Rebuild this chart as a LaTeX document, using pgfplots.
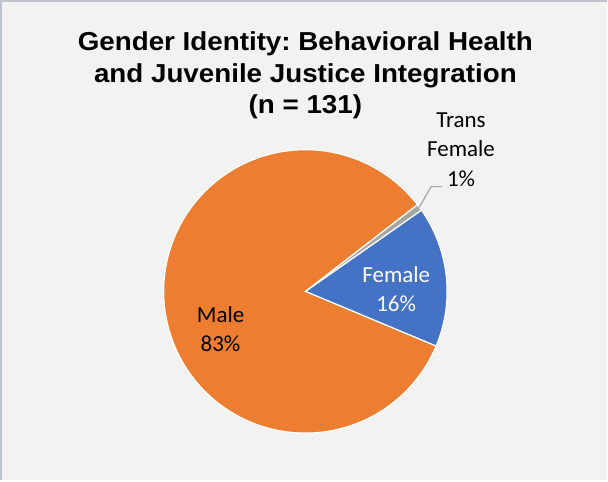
\documentclass[border=0pt]{standalone}
\usepackage{pgfplots}
\pgfplotsset{compat=1.18}
\usepackage{fontspec}
\setmainfont{Carlito}
\newfontfamily\titlefont[FakeStretch=1.07]{Liberation Sans}
\definecolor{bg}{HTML}{F2F2F2}
\definecolor{bordercol}{HTML}{BFC3CC}
\definecolor{cMale}{HTML}{ED7D31}
\definecolor{cFemale}{HTML}{4472C4}
\definecolor{cTrans}{HTML}{A5A5A5}
\definecolor{leader}{HTML}{A6A6A6}
% counts (n = 131)
\def\nFemale{21}
\def\nTrans{1}
\def\nMale{109}
\pgfmathsetmacro{\tot}{\nFemale+\nTrans+\nMale}
\pgfmathsetmacro{\aS}{-22.7}
\pgfmathsetmacro{\aF}{\aS+\nFemale/\tot*360}
\pgfmathsetmacro{\aT}{\aF+\nTrans/\tot*360}
\pgfmathsetmacro{\aM}{\aT+\nMale/\tot*360}
\def\cx{306}
\def\cy{189}
\def\r{142}
\begin{document}
\frenchspacing
\begin{tikzpicture}
\begin{axis}[width=608bp,height=481bp,scale only axis,
  xmin=0,xmax=608,ymin=0,ymax=481,
  axis line style={draw=none},ticks=none,
  axis background/.style={fill=bg},clip=false]
\addplot[fill=cFemale,draw=white,line width=1.2pt,domain=\aS:\aF,samples=60]
  ({\cx+\r*cos(x)},{\cy+\r*sin(x)}) -- (axis cs:\cx,\cy) -- cycle;
\addplot[fill=cTrans,draw=white,line width=1.2pt,domain=\aF:\aT,samples=10]
  ({\cx+\r*cos(x)},{\cy+\r*sin(x)}) -- (axis cs:\cx,\cy) -- cycle;
\addplot[fill=cMale,draw=white,line width=1.2pt,domain=\aT:\aM,samples=200]
  ({\cx+\r*cos(x)},{\cy+\r*sin(x)}) -- (axis cs:\cx,\cy) -- cycle;
% border (top and left)
\draw[bordercol,line width=2.5bp] (axis cs:1.25,0) -- (axis cs:1.25,479.75) -- (axis cs:608,479.75);
% title
\node[anchor=base,font=\titlefont\bfseries\fontsize{26bp}{30bp}\selectfont] at (axis cs:306,430) {Gender Identity: Behavioral Health};
\node[anchor=base,font=\titlefont\bfseries\fontsize{26bp}{30bp}\selectfont] at (axis cs:306,398) {and Juvenile Justice Integration};
\node[anchor=base,font=\titlefont\bfseries\fontsize{26bp}{30bp}\selectfont] at (axis cs:306,367) {(n = 131)};
% data labels
\node[anchor=base,font=\fontsize{23bp}{28bp}\selectfont] at (axis cs:221,158) {Male};
\node[anchor=base,font=\fontsize{23bp}{28bp}\selectfont] at (axis cs:221,129) {83\%};
\node[anchor=base,text=white,font=\fontsize{23bp}{28bp}\selectfont] at (axis cs:397,198) {Female};
\node[anchor=base,text=white,font=\fontsize{23bp}{28bp}\selectfont] at (axis cs:397,169) {16\%};
\node[anchor=base,font=\fontsize{23bp}{28bp}\selectfont] at (axis cs:462,353) {Trans};
\node[anchor=base,font=\fontsize{23bp}{28bp}\selectfont] at (axis cs:462,324) {Female};
\node[anchor=base,font=\fontsize{23bp}{28bp}\selectfont] at (axis cs:462,294) {1\%};
\draw[leader,line width=1.2bp] (axis cs:443,294) -- (axis cs:432,294) -- (axis cs:420,273);
\end{axis}
\end{tikzpicture}
\end{document}
